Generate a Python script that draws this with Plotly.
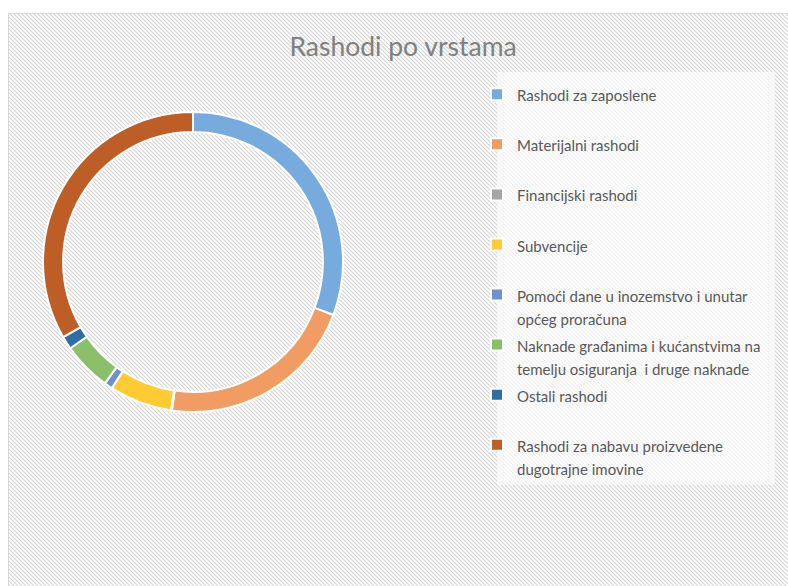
import base64
import plotly.graph_objects as go

# ---- data ----
categories = [
    "Rashodi za zaposlene",
    "Materijalni rashodi",
    "Financijski rashodi",
    "Subvencije",
    "Pomoći dane u inozemstvo i unutar<br>općeg proračuna",
    "Naknade građanima i kućanstvima na<br>temelju osiguranja  i druge naknade",
    "Ostali rashodi",
    "Rashodi za nabavu proizvedene<br>dugotrajne imovine",
]
shares = [30.75, 21.5, 0.1, 6.75, 0.9, 5.25, 1.4, 33.35]
colors = ["#77ABDD", "#F19C62", "#A5A5A5", "#FFCB33",
          "#6F91D0", "#8CBF69", "#2F6DA5", "#BD5E26"]
title_text = "Rashodi po vrstama"

W, H = 788, 586

# legend labels: every entry padded to two lines, rendered at 15px
def fmt(lbl):
    if "<br>" not in lbl:
        lbl = lbl + "<br> "
    return "<br>".join('<span style="font-size:15px">%s</span>' % p for p in lbl.split("<br>"))

labels = [fmt(c) for c in categories]

# background: white page, chart area with diagonal hatch, legend panel
svg = f"""<svg xmlns='http://www.w3.org/2000/svg' width='{W}' height='{H}'>
<defs><pattern id='p' width='4' height='4' patternUnits='userSpaceOnUse'>
<rect width='4' height='4' fill='#ffffff'/>
<path d='M-1,-1 L5,5 M-1,3 L1,5 M3,-1 L5,1' stroke='#d3d3d3' stroke-width='1.1'/>
</pattern></defs>
<rect width='{W}' height='{H}' fill='#ffffff'/>
<rect x='8.5' y='13.5' width='{W+10}' height='{H+10}' fill='url(#p)' stroke='#d9d9d9' stroke-width='1'/>
<rect x='497' y='72' width='278' height='413' fill='#ffffff' fill-opacity='0.62'/>
</svg>"""
src = "data:image/svg+xml;base64," + base64.b64encode(svg.encode()).decode()

fig = go.Figure(go.Pie(
    labels=labels,
    values=shares,
    sort=False,
    direction="clockwise",
    rotation=0,
    hole=0.866,
    textinfo="none",
    marker=dict(colors=colors, line=dict(color="#ffffff", width=2)),
    domain=dict(x=[43 / W, 343 / W], y=[1 - 412 / H, 1 - 112 / H]),
))

fig.update_layout(
    width=W, height=H,
    margin=dict(l=0, r=0, t=0, b=0),
    paper_bgcolor="#ffffff",
    plot_bgcolor="rgba(0,0,0,0)",
    title=dict(text=title_text, x=403 / W, xanchor="center",
               y=1 - 47 / H, yanchor="middle",
               font=dict(family="Lato", size=26.5, color="#808080")),
    legend=dict(
        x=477 / W, xanchor="left", y=1 - 76 / H, yanchor="top",
        font=dict(family="Lato", size=18.1, color="#595959"),
        valign="top", bgcolor="rgba(0,0,0,0)", borderwidth=0,
        itemclick=False, itemdoubleclick=False,
    ),
    images=[dict(source=src, xref="paper", yref="paper", x=0, y=1,
                 sizex=1, sizey=1, sizing="stretch", xanchor="left",
                 yanchor="top", layer="below")],
)

fig.write_html("out.html")
